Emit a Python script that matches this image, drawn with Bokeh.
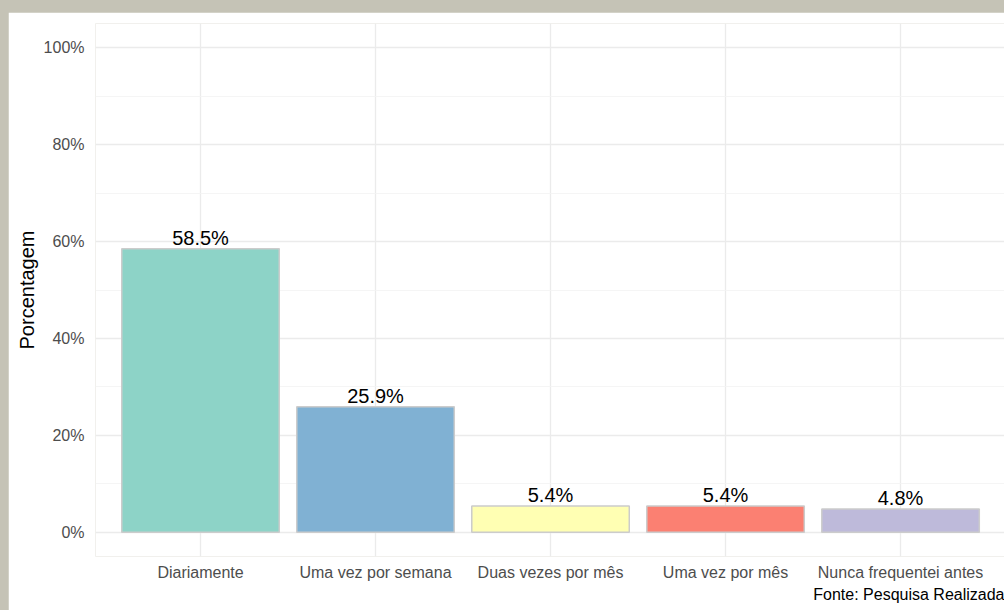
from bokeh.plotting import figure
from bokeh.models import Range1d, FixedTicker, Title, ColumnDataSource
from bokeh.layouts import column
from bokeh.core.properties import value
from bokeh.embed import file_html
from bokeh.resources import INLINE

categories = ["Diariamente", "Uma vez por semana", "Duas vezes por mês", "Uma vez por mês", "Nunca frequentei antes"]
percentages = [58.5, 25.9, 5.4, 5.4, 4.8]
colors = ["#8DD3C7", "#80B1D3", "#FFFFB3", "#FB8072", "#BEBADA"]
y_ticks = [0, 20, 40, 60, 80, 100]
y_minor = [10, 30, 50, 70, 90]
caption = "Fonte: Pesquisa Realizada"

FONT = "Liberation Sans"
xs = list(range(1, len(categories) + 1))
labels = [f"{v:.1f}%" for v in percentages]
src = ColumnDataSource(dict(x=xs, top=percentages, color=colors, label=labels))

p = figure(width=996, height=598, output_backend="svg", toolbar_location=None,
           x_range=Range1d(0.4, 5.594), y_range=Range1d(-5, 105),
           min_border_left=87, min_border_right=0, min_border_top=11, min_border_bottom=54,
           background_fill_color="white", border_fill_color="white")
p.outline_line_color = None

p.vbar(x="x", top="top", width=0.9, bottom=0, fill_color="color", line_color="#cccccc",
       line_width=1.5, source=src)
p.text(x="x", y="top", text="label", text_align="center", text_baseline="bottom",
       text_font=value(FONT), text_font_size="20px", text_color="black", source=src)

# axes
p.xaxis.ticker = FixedTicker(ticks=xs)
p.xaxis.major_label_overrides = {i: c for i, c in zip(xs, categories)}
p.yaxis.ticker = FixedTicker(ticks=y_ticks, minor_ticks=y_minor)
p.yaxis.major_label_overrides = {t: f"{t}%" for t in y_ticks}
for ax in (p.xaxis[0], p.yaxis[0]):
    ax.axis_line_color = None
    ax.major_tick_line_color = None
    ax.minor_tick_line_color = None
    ax.major_tick_out = 0
    ax.major_tick_in = 0
    ax.minor_tick_out = 0
    ax.minor_tick_in = 0
    ax.major_label_text_font = FONT
    ax.major_label_text_font_size = "16px"
    ax.major_label_text_color = "#4d4d4d"
p.xaxis.major_label_standoff = 7
p.yaxis.major_label_standoff = 11
p.yaxis.axis_label = "Porcentagem"
p.yaxis.axis_label_text_font = FONT
p.yaxis.axis_label_text_font_size = "20px"
p.yaxis.axis_label_text_font_style = "normal"
p.yaxis.axis_label_text_color = "black"
p.yaxis.axis_label_standoff = 3

# grid
p.xgrid.grid_line_color = "#ebebeb"
p.xgrid.grid_line_width = 1.3
p.ygrid.grid_line_color = "#ebebeb"
p.ygrid.grid_line_width = 1.3
p.ygrid.minor_grid_line_color = "#f2f2f2"
p.ygrid.minor_grid_line_width = 0.8

cap = Title(text=caption, align="right", text_font=FONT, text_font_size="16px",
            text_font_style="normal", text_color="black", standoff=0)
p.add_layout(cap, "below")

layout = column(p, styles={"background-color": "#c5c3b6", "padding-top": "12px",
                           "padding-left": "8px"})

open("out.html", "w").write(file_html(layout, INLINE))
